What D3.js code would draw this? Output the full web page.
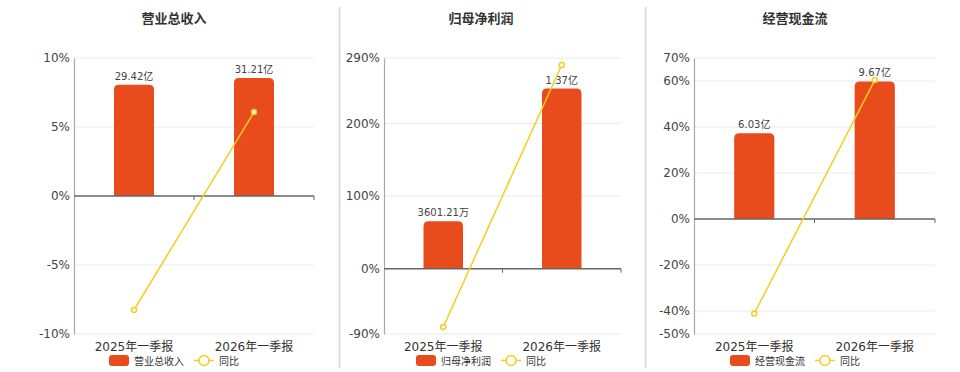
<!DOCTYPE html>
<html>
<head>
<meta charset="utf-8">
<script src="https://cdn.jsdelivr.net/npm/d3@7"></script>
<style>
  body { margin: 0; background: #fff; }
  svg text { font-family: "DejaVu Sans", "Noto Sans CJK SC", sans-serif; }
</style>
</head>
<body>
<div id="chart-mount"></div>
<script>
var WIDTH = 960;
var HEIGHT = 372;
var BAR_COLOR = '#e84c1d';
var LINE_COLOR = '#f5cd1f';
var BAR_HEADROOM = 1.17;

var categories = ['2025年一季报', '2026年一季报'];
var titles = ['营业总收入', '归母净利润', '经营现金流'];
var seriesNames = ['营业总收入', '归母净利润', '经营现金流'];
var lineName = '同比';

// bar amounts, in 亿
var revenueValues = [29.42, 31.21];
var profitValues = [0.360121, 1.37];
var cashValues = [6.03, 9.67];

var revenueLabels = ['29.42亿', '31.21亿'];
var profitLabels = ['3601.21万', '1.37亿'];
var cashLabels = ['6.03亿', '9.67亿'];

// 同比, percent
var revenueYoy = [-8.26, 6.08];
var profitYoy = [-80.4, 280.4];
var cashYoy = [-41.1, 60.4];

var revenueTicks = [-10, -5, 0, 5, 10];
var profitTicks = [-90, 0, 100, 200, 290];
var cashTicks = [-50, -40, -20, 0, 20, 40, 60, 70];

var panels = [
  { left: 74, right: 314, center: 174, bars: revenueValues, labels: revenueLabels, yoy: revenueYoy, ticks: revenueTicks },
  { left: 384, right: 621, center: 481, bars: profitValues, labels: profitLabels, yoy: profitYoy, ticks: profitTicks },
  { left: 694, right: 935, center: 795, bars: cashValues, labels: cashLabels, yoy: cashYoy, ticks: cashTicks }
];
var PLOT_TOP = 58;
var PLOT_BOTTOM = 334;

var $svg = d3.select('#chart-mount').append('svg')
  .attr('width', WIDTH)
  .attr('height', HEIGHT);

function topRoundedBar (x, y, w, h, r) {
  r = Math.min(r, h, w / 2);
  return 'M' + x + ',' + (y + h) +
    'V' + (y + r) +
    'Q' + x + ',' + y + ' ' + (x + r) + ',' + y +
    'H' + (x + w - r) +
    'Q' + (x + w) + ',' + y + ' ' + (x + w) + ',' + (y + r) +
    'V' + (y + h) + 'Z';
}

function drawPanel (p, i) {
  var $g = $svg.append('g');
  var ticks = p.ticks;

  var x = d3.scaleBand()
    .domain(categories)
    .range([p.left, p.right]);

  var y = d3.scaleLinear()
    .domain([d3.min(ticks), d3.max(ticks)])
    .range([PLOT_BOTTOM, PLOT_TOP]);

  // bars share the zero line with the percent axis
  var zeroY = y(0);
  var barMax = d3.max(p.bars) * BAR_HEADROOM;
  var yBar = d3.scaleLinear()
    .domain([0, barMax])
    .range([zeroY, PLOT_TOP]);

  $g.append('text')
    .attr('x', p.center)
    .attr('y', 23)
    .attr('text-anchor', 'middle')
    .attr('font-size', 13)
    .attr('font-weight', 'bold')
    .attr('fill', '#333')
    .text(titles[i]);

  // grid
  $g.selectAll('line.grid')
    .data(ticks.filter(function (d) { return d !== 0; }))
    .enter()
      .append('line')
      .attr('class', 'grid')
      .attr('x1', p.left)
      .attr('x2', p.right)
      .attr('y1', function (d) { return y(d); })
      .attr('y2', function (d) { return y(d); })
      .attr('stroke', '#e6e9f2')
      .attr('stroke-width', 1);

  // left axis
  var yAxis = d3.axisLeft(y)
    .tickValues(ticks)
    .tickSize(0)
    .tickPadding(4)
    .tickFormat(function (d) { return d + '%'; });
  var $yAxis = $g.append('g')
    .attr('transform', 'translate(' + p.left + ',0)')
    .call(yAxis);
  $yAxis.select('.domain').attr('stroke', '#a8a8a8').attr('stroke-width', 1.2);
  $yAxis.selectAll('text')
    .attr('font-size', 12)
    .attr('fill', '#444')
    .attr('font-family', '"DejaVu Sans", sans-serif');

  // bars
  var barW = x.bandwidth() / 3;
  $g.selectAll('path.bar')
    .data(p.bars)
    .enter()
      .append('path')
      .attr('class', 'bar')
      .attr('fill', BAR_COLOR)
      .attr('d', function (d, j) {
        var bx = x(categories[j]) + (x.bandwidth() - barW) / 2;
        var by = yBar(d);
        return topRoundedBar(bx, by, barW, zeroY - by, 5);
      });

  $g.selectAll('text.bar-label')
    .data(p.bars)
    .enter()
      .append('text')
      .attr('class', 'bar-label')
      .attr('x', function (d, j) { return x(categories[j]) + x.bandwidth() / 2; })
      .attr('y', function (d) { return yBar(d) - 5; })
      .attr('text-anchor', 'middle')
      .attr('font-size', 10)
      .attr('fill', '#444')
      .text(function (d, j) { return p.labels[j]; });

  // zero line with band ticks
  var xAxis = d3.axisBottom(x)
    .tickSize(0)
    .tickFormat('');
  $g.append('line')
    .attr('x1', p.left)
    .attr('x2', p.right)
    .attr('y1', zeroY)
    .attr('y2', zeroY)
    .attr('stroke', '#666')
    .attr('stroke-width', 1.5);
  $g.selectAll('line.xtick')
    .data([x.range()[0] + x.step(), x.range()[1]])
    .enter()
      .append('line')
      .attr('class', 'xtick')
      .attr('x1', function (d) { return d; })
      .attr('x2', function (d) { return d; })
      .attr('y1', zeroY)
      .attr('y2', zeroY + 4)
      .attr('stroke', '#666')
      .attr('stroke-width', 1);

  $g.selectAll('text.xlabel')
    .data(categories)
    .enter()
      .append('text')
      .attr('class', 'xlabel')
      .attr('x', function (d) { return x(d) + x.bandwidth() / 2; })
      .attr('y', 351)
      .attr('text-anchor', 'middle')
      .attr('font-size', 12)
      .attr('fill', '#333')
      .text(function (d) { return d; });

  // 同比 line
  var line = d3.line()
    .x(function (d, j) { return x(categories[j]) + x.bandwidth() / 2; })
    .y(function (d) { return y(d); });
  $g.append('path')
    .datum(p.yoy)
    .attr('d', line)
    .attr('fill', 'none')
    .attr('stroke', LINE_COLOR)
    .attr('stroke-width', 1.5);
  $g.selectAll('circle.pt')
    .data(p.yoy)
    .enter()
      .append('circle')
      .attr('class', 'pt')
      .attr('cx', function (d, j) { return x(categories[j]) + x.bandwidth() / 2; })
      .attr('cy', function (d) { return y(d); })
      .attr('r', 2.5)
      .attr('fill', '#fff')
      .attr('stroke', LINE_COLOR)
      .attr('stroke-width', 1.5);

  drawLegend($g, p.center, seriesNames[i]);
}

function drawLegend ($g, center, name) {
  var $lg = $g.append('g');
  var $rect = $lg.append('rect')
    .attr('y', 355)
    .attr('width', 20)
    .attr('height', 11)
    .attr('rx', 3)
    .attr('fill', BAR_COLOR);
  var $t1 = $lg.append('text')
    .attr('y', 364.5)
    .attr('font-size', 10)
    .attr('fill', '#333')
    .text(name);
  var w1 = $t1.node().getComputedTextLength();
  var $ln = $lg.append('line')
    .attr('y1', 360.5)
    .attr('y2', 360.5)
    .attr('stroke', LINE_COLOR)
    .attr('stroke-width', 1.5);
  var $c = $lg.append('circle')
    .attr('cy', 360.5)
    .attr('r', 5)
    .attr('fill', '#fff')
    .attr('stroke', LINE_COLOR)
    .attr('stroke-width', 1.5);
  var $t2 = $lg.append('text')
    .attr('y', 364.5)
    .attr('font-size', 10)
    .attr('fill', '#333')
    .text(lineName);
  var w2 = $t2.node().getComputedTextLength();

  var total = 20 + 5 + w1 + 10 + 20 + 5 + w2;
  var x0 = center - total / 2;
  $rect.attr('x', x0);
  $t1.attr('x', x0 + 25);
  var lx = x0 + 25 + w1 + 10;
  $ln.attr('x1', lx).attr('x2', lx + 20);
  $c.attr('cx', lx + 10);
  $t2.attr('x', lx + 25);
}

// panel separators
$svg.selectAll('line.sep')
  .data([339.5, 645.5])
  .enter()
    .append('line')
    .attr('class', 'sep')
    .attr('x1', function (d) { return d; })
    .attr('x2', function (d) { return d; })
    .attr('y1', 7)
    .attr('y2', 368)
    .attr('stroke', '#dcdcdc')
    .attr('stroke-width', 2);

panels.forEach(drawPanel);
</script>
</body>
</html>
